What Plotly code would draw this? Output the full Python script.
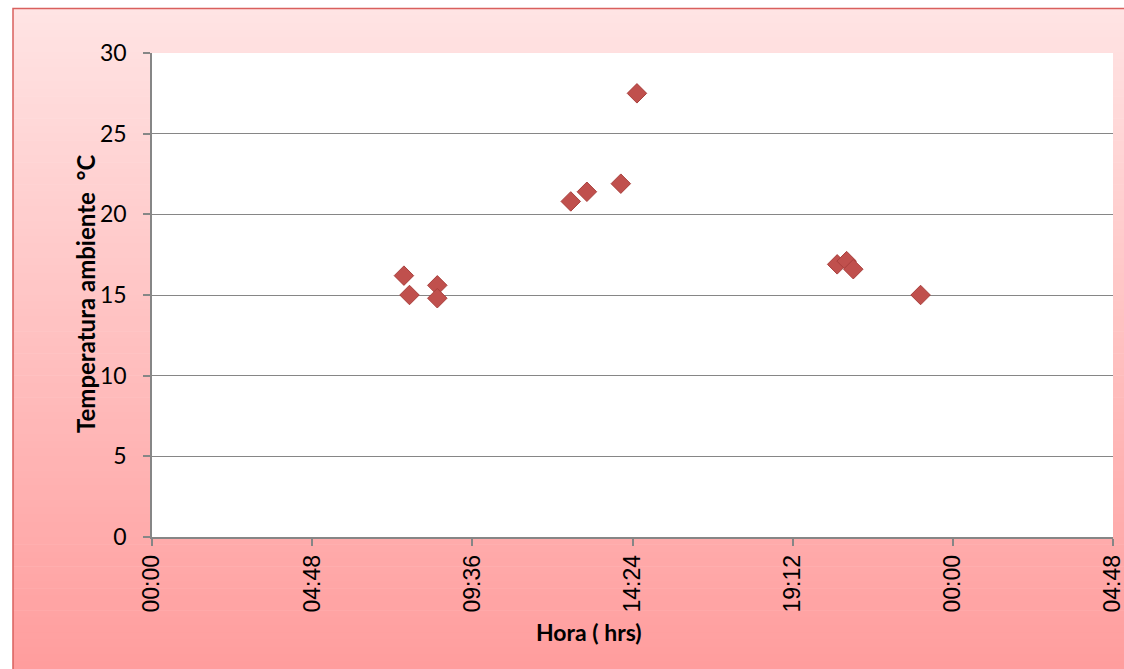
import plotly.graph_objects as go

# ---- data ----
hora = ["07:33", "07:43", "08:33", "08:33", "12:33", "13:02", "14:03", "14:32",
        "20:32", "20:49", "21:01", "23:02"]
temperatura = [16.2, 15.0, 15.6, 14.8, 20.8, 21.4, 21.9, 27.5, 16.9, 17.1, 16.6, 15.0]
y_ticks = [0, 5, 10, 15, 20, 25, 30]

fecha = "2020-01-01"
x_vals = [f"{fecha} {h}:00" for h in hora]

W, H = 1124, 669
L, R, T, B = 152, 1113, 53, 537  # plot area in pixels

def px(x):
    return (x - L) / (R - L)

def py(y):
    return (B - y) / (B - T)

fig = go.Figure()
fig.add_trace(go.Scatter(
    x=x_vals, y=temperatura, mode="markers",
    marker=dict(symbol="diamond", size=15, color="#C0504D",
                line=dict(color="#A9403D", width=1)),
    showlegend=False,
))

shapes = []
# gradient background strips
top_c = (255, 228, 228)
bot_c = (255, 157, 157)
y0p, y1p = 8, H
n = 90
step = (y1p - y0p) / n
for i in range(n):
    ya = y0p + i * step
    yb = ya + step + 0.6
    t = (i + 0.5) / n
    c = tuple(round(top_c[k] + (bot_c[k] - top_c[k]) * t) for k in range(3))
    shapes.append(dict(type="rect", xref="paper", yref="paper", layer="below",
                       x0=px(13), x1=px(W + 5), y0=py(yb), y1=py(ya),
                       fillcolor=f"rgb{c}", line=dict(width=0)))
# white plot area
shapes.append(dict(type="rect", xref="paper", yref="paper", layer="below",
                   x0=0, x1=1, y0=0, y1=1, fillcolor="white", line=dict(width=0)))
# outer border
shapes.append(dict(type="rect", xref="paper", yref="paper", layer="above",
                   x0=px(13), x1=px(W + 10), y0=py(H + 10), y1=py(8.5),
                   fillcolor="rgba(0,0,0,0)", line=dict(color="#D9605E", width=1.5)))

fig.update_layout(
    width=W, height=H,
    margin=dict(l=L, r=W - R, t=T, b=H - B, autoexpand=False),
    paper_bgcolor="white", plot_bgcolor="white",
    shapes=shapes,
    xaxis=dict(
        type="date", automargin=False, ticklabeloverflow="allow",
        range=[f"{fecha} 00:00:00", "2020-01-02 04:48:00"],
        tick0=f"{fecha} 00:00:00", dtick=4.8 * 3600 * 1000,
        tickformat="%H:%M", tickangle=-90,
        showgrid=False, showline=True, linecolor="#868686", linewidth=1.5,
        ticks="outside", ticklen=7, tickcolor="#868686", tickwidth=1.5,
        tickfont=dict(family="Liberation Sans, Arial", size=23, color="black"),
        zeroline=False,
    ),
    yaxis=dict(
        range=[0, 30], tickvals=y_ticks, automargin=False,
        showgrid=True, gridcolor="#868686", gridwidth=1,
        showline=True, linecolor="#868686", linewidth=1.5,
        ticks="outside", ticklen=7, tickcolor="#868686", tickwidth=1.5,
        ticklabelstandoff=12,
        tickfont=dict(family="Lato, Open Sans", size=23, color="black"),
        zeroline=False,
    ),
    annotations=[
        dict(text="<b>Temperatura ambiente  °C</b>", xref="paper", yref="paper",
             x=px(85), y=py(294), textangle=-90, showarrow=False,
             font=dict(family="Lato, Open Sans", size=24, color="black"),
             xanchor="center", yanchor="middle"),
        dict(text="<b>Hora ( hrs)</b>", xref="paper", yref="paper",
             x=px(589), y=py(632), showarrow=False,
             font=dict(family="Lato, Open Sans", size=23, color="black"),
             xanchor="center", yanchor="middle"),
    ],
)

fig.write_html("out.html")
